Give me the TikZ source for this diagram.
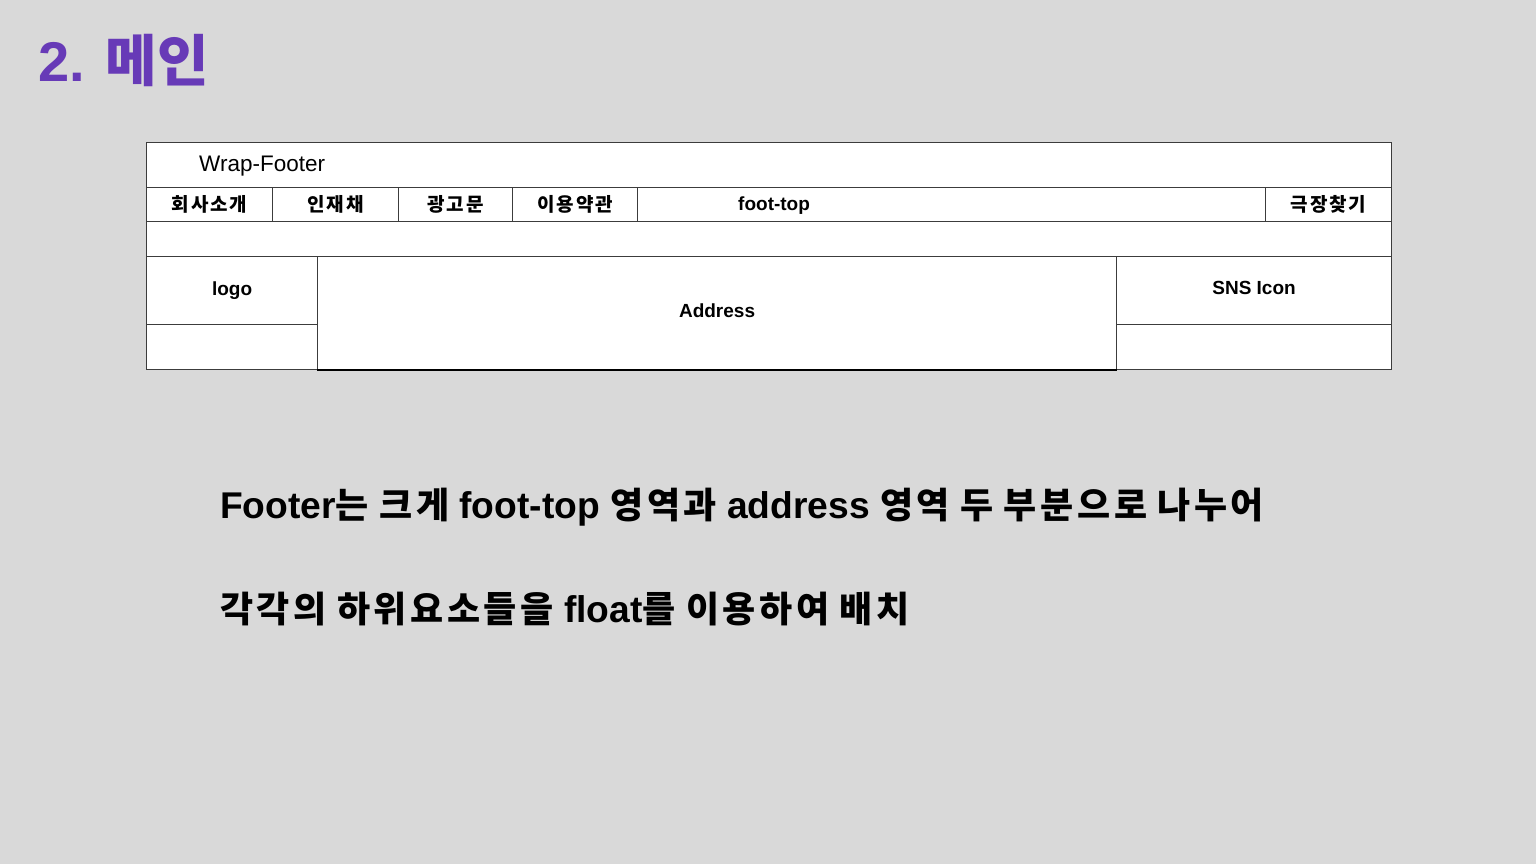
\documentclass[tikz,border=0pt]{standalone}
\usepackage{fontspec}
\setmainfont{Liberation Sans}
\newfontfamily\kr{Noto Sans CJK KR}[LetterSpace=10]
\newfontfamily\krtitle{Noto Sans CJK KR}
\newcommand\krbody[1]{{\fontsize{36}{42}\selectfont\kr #1}}
\definecolor{bg}{HTML}{D9D9D9}
\definecolor{linec}{HTML}{3C3C3C}
\definecolor{titlec}{HTML}{673AB7}
\tikzset{
  cell/.style={draw=linec, fill=white, line width=1.1pt, inner sep=0pt, align=center},
  menutxt/.style={font=\fontsize{19}{22}\selectfont\bfseries},
  bodytxt/.style={font=\fontsize{37.2}{42}\selectfont\bfseries, anchor=base west, inner sep=0pt}
}
\begin{document}
\begin{tikzpicture}[x=1pt,y=-1pt]
\fill[bg] (0,0) rectangle (1536,864);
\useasboundingbox (0,0) rectangle (1536,864);

% title
\node[anchor=base west, inner sep=0pt, text=titlec, font=\fontsize{56}{60}\selectfont\bfseries] (title) at (38,82) {2. {\krtitle 메인}};

% wrap row
\node[cell, minimum width=1245pt, minimum height=45pt, anchor=north west] (wrap) at (146,142) {};
\node[anchor=base west, inner sep=0pt, font=\fontsize{22.5}{26}\selectfont] (wraplbl) at (199,171) {Wrap-Footer};

% menu row
\node[cell, menutxt, minimum width=126pt, minimum height=34pt, anchor=north west] (m1) at (146,187) {\kr 회사소개};
\node[cell, menutxt, minimum width=126pt, minimum height=34pt, anchor=north west] (m2) at (272,187) {\kr 인재채};
\node[cell, menutxt, minimum width=114pt, minimum height=34pt, anchor=north west] (m3) at (398,187) {\kr 광고문};
\node[cell, menutxt, minimum width=125pt, minimum height=34pt, anchor=north west] (m4) at (512,187) {\kr 이용약관};
\node[cell, minimum width=628pt, minimum height=34pt, anchor=north west] (ft) at (637,187) {};
\node[menutxt, anchor=base west, inner sep=0pt] (ftlbl) at (738,210) {foot-top};
\node[cell, menutxt, minimum width=126pt, minimum height=34pt, anchor=north west] (m5) at (1265,187) {\kr 극장찾기};

% empty row
\node[cell, minimum width=1245pt, minimum height=35pt, anchor=north west] (gap) at (146,221) {};

% lower area
\node[cell, menutxt, minimum width=171pt, minimum height=68pt, anchor=north west] (logo) at (146,256) {logo};
\node[cell, minimum width=171pt, minimum height=45pt, anchor=north west] (logob) at (146,324) {};
\node[cell, menutxt, minimum width=275pt, minimum height=68pt, anchor=north west] (sns) at (1116,256) {SNS Icon\strut};
\node[cell, minimum width=275pt, minimum height=45pt, anchor=north west] (snsb) at (1116,324) {};
\node[cell, menutxt, minimum width=799pt, minimum height=113pt, anchor=north west] (addr) at (317,256) {Address\strut};
\draw[black, line width=1.6pt] (addr.south west) -- (addr.south east);

% body text
\node[bodytxt] (line1) at (220,518) {Footer\krbody{는} \krbody{크게} foot-top \krbody{영역과} address \krbody{영역} \krbody{두} \krbody{부분으로} \krbody{나누어}};
\node[bodytxt] (line2) at (220,622) {\krbody{각각의} \krbody{하위요소들을} float\krbody{를} \krbody{이용하여} \krbody{배치}};
\end{tikzpicture}
\end{document}
